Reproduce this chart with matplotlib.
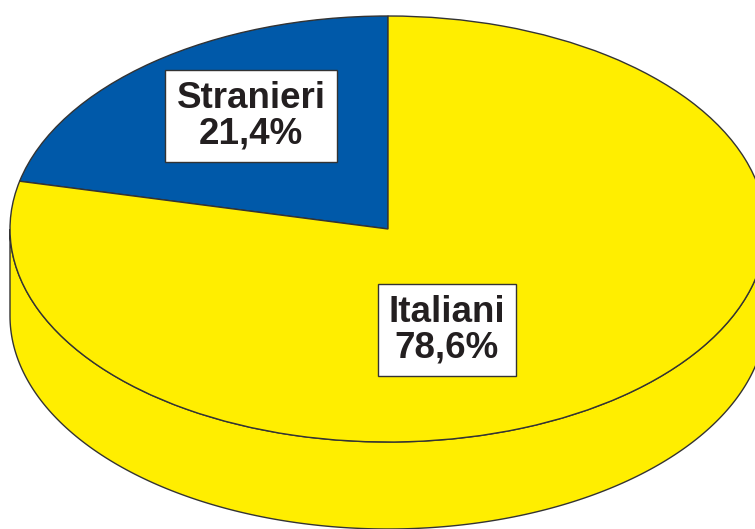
import numpy as np
import matplotlib.pyplot as plt
from matplotlib.patches import Wedge, Polygon
from matplotlib.transforms import Affine2D

labels = ["Italiani", "Stranieri"]
values = [78.6, 21.4]
colors = ["#FFEE00", "#0059A9"]

# geometry of the tilted pie (pixels)
cx, cy = 388, 229
a, b = 378, 213
depth = 87

fig = plt.figure(figsize=(7.55, 5.29), dpi=100)
ax = fig.add_axes([0, 0, 1, 1])
ax.set_xlim(0, 755)
ax.set_ylim(529, 0)
ax.axis("off")

# side of the pie (front half, only Italiani is visible there)
t = np.linspace(np.pi, 2 * np.pi, 200)
top = np.column_stack([cx + a * np.cos(t), cy - b * np.sin(t)])
bot = np.column_stack([cx + a * np.cos(t[::-1]), cy - b * np.sin(t[::-1]) + depth])
side = Polygon(np.vstack([top, bot]), closed=True, facecolor=colors[0],
               edgecolor="#333333", linewidth=1.0, zorder=1)
ax.add_patch(side)

# top face
tr = Affine2D().scale(a, -b).translate(cx, cy) + ax.transData
start = 90.0
total = sum(values)
for i in [1, 0]:
    span = values[i] / total * 360
    w = Wedge((0, 0), 1, start, start + span, facecolor=colors[i],
              edgecolor="#333333", linewidth=1.0, transform=tr, zorder=2)
    ax.add_patch(w)
    start += span

label_pos = {"Stranieri": (251, 116), "Italiani": (447, 330)}
for lab, v in zip(labels, values):
    txt = lab + "\n" + ("%.1f" % v).replace(".", ",") + "%"
    x, y = label_pos[lab]
    ax.text(x, y, txt, ha="center", va="center", fontsize=26.5, fontweight="bold",
            family="Liberation Sans", color="#231f20", linespacing=1.02, zorder=5,
            bbox=dict(boxstyle="square,pad=0.3", facecolor="white",
                      edgecolor="#333333", linewidth=1.0))

fig.savefig("out.png", dpi=100)
